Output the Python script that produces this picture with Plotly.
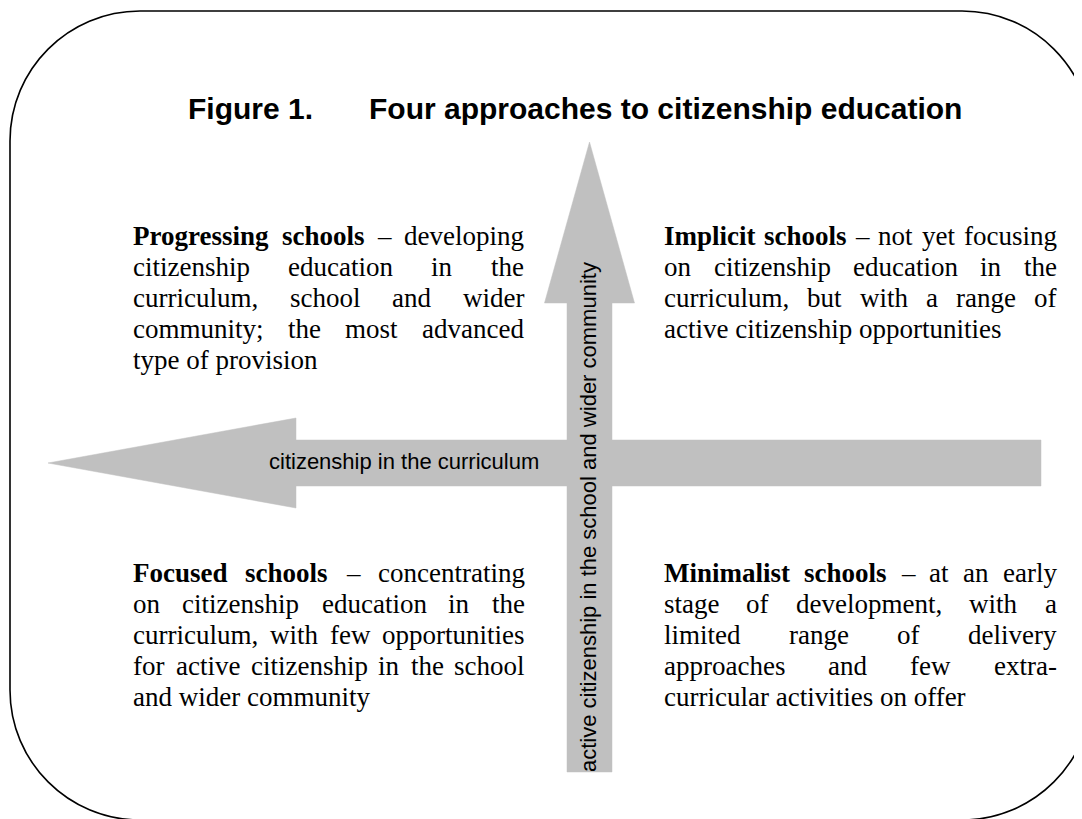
import plotly.graph_objects as go

W, H = 1082, 819
PAGE_OFFSET = 8  # default body margin of the html page

# ---------------- text content ----------------
title_label = "Figure 1."
title_text = "Four approaches to citizenship education"

axis_h_label = "citizenship in the curriculum"
axis_v_label = "active citizenship in the school and wider community"

progressing_head = "Progressing schools"
progressing_lines = [
    "Progressing schools – developing",
    "citizenship education in the",
    "curriculum, school and wider",
    "community; the most advanced",
    "type of provision",
]

implicit_head = "Implicit schools"
implicit_lines = [
    "Implicit schools – not yet focusing",
    "on citizenship education in the",
    "curriculum, but with a range of",
    "active citizenship opportunities",
]

focused_head = "Focused schools"
focused_lines = [
    "Focused schools – concentrating",
    "on citizenship education in the",
    "curriculum, with few opportunities",
    "for active citizenship in the school",
    "and wider community",
]

minimalist_head = "Minimalist schools"
minimalist_lines = [
    "Minimalist schools – at an early",
    "stage of development, with a",
    "limited range of delivery",
    "approaches and few extra-",
    "curricular activities on offer",
]

# ---------------- layout / style ----------------
SERIF = "Times New Roman, Liberation Serif, serif"
SANS = "Arial, Liberation Sans, sans-serif"
BODY_SIZE = 27
LINE_GAP = 31
LABEL_SIZE = 22
TITLE_SIZE = 30
ARROW_COLOR = "#c0c0c0"

# Times New Roman advance widths (per 1000 em)
TNR_REG = dict(zip("abcdefghijklmnopqrstuvwxyz",
                   [444, 500, 444, 500, 444, 333, 500, 500, 278, 278, 500, 278, 778,
                    500, 500, 500, 500, 333, 389, 278, 500, 500, 722, 500, 500, 444]))
TNR_REG.update({",": 250, ".": 250, ";": 278, "-": 333, "–": 500, " ": 250})
TNR_BOLD = dict(zip("abcdefghijklmnopqrstuvwxyz",
                    [500, 556, 444, 556, 444, 333, 500, 556, 278, 333, 556, 278, 833,
                     556, 500, 556, 556, 444, 389, 333, 556, 500, 722, 500, 500, 444]))
TNR_BOLD.update({"F": 611, "I": 389, "M": 944, "P": 611, " ": 250})


def word_width(word, bold, size):
    tbl = TNR_BOLD if bold else TNR_REG
    return sum(tbl.get(ch, 500) for ch in word) * size / 1000.0


annotations = []


def add_text(text, x, baseline, xanchor, size=BODY_SIZE, family=SERIF, bold=False):
    shown = f"<b>{text}</b>" if bold else text
    annotations.append(dict(
        text=shown, x=x, y=baseline - 0.3375 * size, xref="x", yref="y",
        xanchor=xanchor, yanchor="middle", showarrow=False,
        borderpad=0, borderwidth=0,
        font=dict(family=family, size=size, color="black"),
    ))


def add_block(lines, head, left, right, first_baseline):
    n_bold = len(head.split())
    for i, line in enumerate(lines):
        base = first_baseline + i * LINE_GAP
        words = line.split(" ")
        if i == len(lines) - 1:
            add_text(line, left, base, "left")
            continue
        bolds = [(i == 0 and k < n_bold) for k in range(len(words))]
        widths = [word_width(w, b, BODY_SIZE) for w, b in zip(words, bolds)]
        gap = (right - left - sum(widths)) / (len(words) - 1)
        xpos = left
        for k, (w, b, wd) in enumerate(zip(words, bolds, widths)):
            if k == 0:
                add_text(w, left, base, "left", bold=b)
            elif k == len(words) - 1:
                add_text(w, right, base, "right", bold=b)
            else:
                add_text(w, xpos + wd / 2, base, "center", bold=b)
            xpos += wd + gap


add_block(progressing_lines, progressing_head, 133, 524, 245)
add_block(implicit_lines, implicit_head, 664, 1057, 245)
add_block(focused_lines, focused_head, 133, 525, 582)
add_block(minimalist_lines, minimalist_head, 664, 1057, 582)

# title
add_text(title_label, 188, 119, "left", size=TITLE_SIZE, family=SANS, bold=True)
add_text(title_text, 369, 119, "left", size=TITLE_SIZE, family=SANS, bold=True)

# horizontal arrow label
add_text(axis_h_label, 269, 469, "left", size=LABEL_SIZE, family=SANS)

# vertical arrow label (rotated)
annotations.append(dict(
    text=axis_v_label, x=588, y=262, xref="x", yref="y",
    xanchor="center", yanchor="top", textangle=-90, showarrow=False,
    borderpad=0, borderwidth=0,
    font=dict(family=SANS, size=LABEL_SIZE, color="black"),
))

# ---------------- shapes ----------------
fx0, fy0, fx1, fy1, r = 10, 11, 1092, 820, 130
k = 0.5523 * r
frame = (f"M {fx0 + r},{fy0} L {fx1 - r},{fy0} "
         f"C {fx1 - r + k},{fy0} {fx1},{fy0 + r - k} {fx1},{fy0 + r} "
         f"L {fx1},{fy1 - r} "
         f"C {fx1},{fy1 - r + k} {fx1 - r + k},{fy1} {fx1 - r},{fy1} "
         f"L {fx0 + r},{fy1} "
         f"C {fx0 + r - k},{fy1} {fx0},{fy1 - r + k} {fx0},{fy1 - r} "
         f"L {fx0},{fy0 + r} "
         f"C {fx0},{fy0 + r - k} {fx0 + r - k},{fy0} {fx0 + r},{fy0} Z")

# horizontal arrow (points left)
h_tip_x, h_cy = 48, 463
h_head_x, h_head_half, h_shaft_half, h_end_x = 296, 45, 23, 1041
h_arrow = (f"M {h_tip_x},{h_cy} L {h_head_x},{h_cy - h_head_half} "
           f"L {h_head_x},{h_cy - h_shaft_half} L {h_end_x},{h_cy - h_shaft_half} "
           f"L {h_end_x},{h_cy + h_shaft_half} L {h_head_x},{h_cy + h_shaft_half} "
           f"L {h_head_x},{h_cy + h_head_half} Z")

# vertical arrow (points up)
v_cx, v_tip_y = 589.5, 142
v_head_y, v_head_half, v_shaft_half, v_end_y = 303, 45, 22.5, 772
v_arrow = (f"M {v_cx},{v_tip_y} L {v_cx + v_head_half},{v_head_y} "
           f"L {v_cx + v_shaft_half},{v_head_y} L {v_cx + v_shaft_half},{v_end_y} "
           f"L {v_cx - v_shaft_half},{v_end_y} L {v_cx - v_shaft_half},{v_head_y} "
           f"L {v_cx - v_head_half},{v_head_y} Z")

shapes = [
    dict(type="path", path=frame, xref="x", yref="y",
         line=dict(color="black", width=1.6), fillcolor="rgba(0,0,0,0)", layer="below"),
    dict(type="path", path=h_arrow, xref="x", yref="y",
         line=dict(color=ARROW_COLOR, width=0.5), fillcolor=ARROW_COLOR, layer="below"),
    dict(type="path", path=v_arrow, xref="x", yref="y",
         line=dict(color=ARROW_COLOR, width=0.5), fillcolor=ARROW_COLOR, layer="below"),
]

fig = go.Figure()
fig.update_layout(
    width=W - PAGE_OFFSET, height=H - PAGE_OFFSET,
    margin=dict(l=0, r=0, t=0, b=0),
    paper_bgcolor="white", plot_bgcolor="white",
    xaxis=dict(range=[PAGE_OFFSET, W], visible=False, fixedrange=True),
    yaxis=dict(range=[H, PAGE_OFFSET], visible=False, fixedrange=True),
    shapes=shapes, annotations=annotations,
    showlegend=False,
)

fig.write_html("out.html", config={"displayModeBar": False})
